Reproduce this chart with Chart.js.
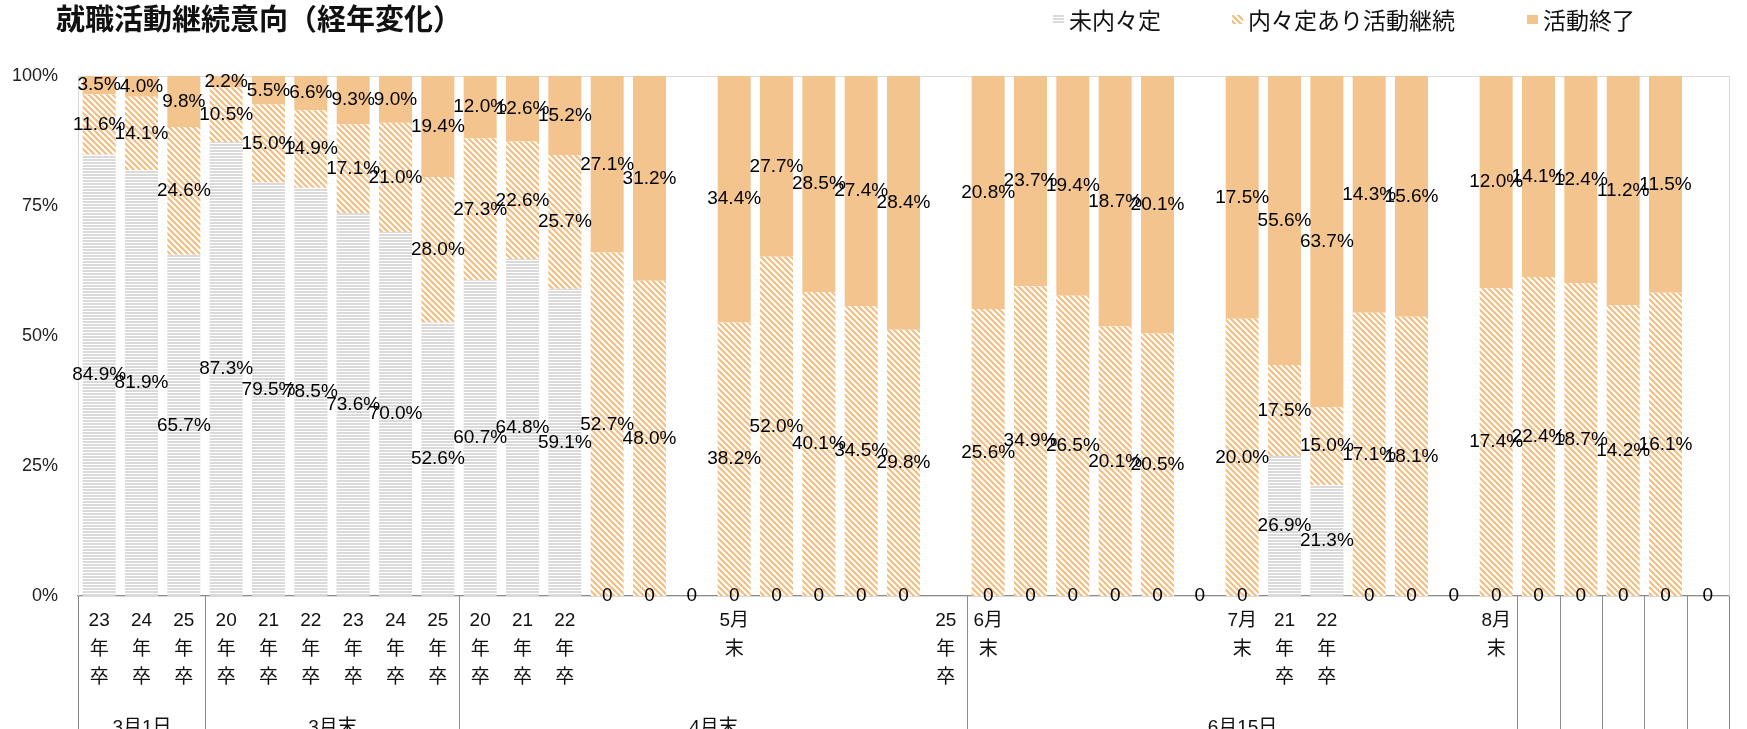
<!DOCTYPE html>
<html lang="ja">
<head>
<meta charset="utf-8">
<title>就職活動継続意向（経年変化）</title>
<script src="https://cdn.jsdelivr.net/npm/chart.js@4/dist/chart.umd.min.js"></script>
<style>
  html, body { margin: 0; padding: 0; background: #fff; overflow: hidden; }
  #wrap { position: relative; width: 1747px; height: 729px; }
  #title { position: absolute; left: 56px; top: -4px; line-height: 34px; font: bold 29px 'Noto Sans CJK JP', sans-serif; color: #111; white-space: nowrap; }
  .lg { position: absolute; top: 2px; display: flex; align-items: center; line-height: 30px; font: 23px 'Noto Sans CJK JP', sans-serif; color: #111; white-space: nowrap; }
  .sw { width: 11px; height: 9px; margin-right: 5px; }
</style>
</head>
<body>
<div id="wrap">
  <canvas id="chart" width="1747" height="729"></canvas>
  <div id="title">就職活動継続意向（経年変化）</div>
  <div class="lg" style="left:1053px"><span class="sw" id="sw0"></span><span>未内々定</span></div>
  <div class="lg" style="left:1232px"><span class="sw" id="sw1"></span><span>内々定あり活動継続</span></div>
  <div class="lg" style="left:1527px"><span class="sw" id="sw2"></span><span>活動終了</span></div>
</div>
<script>
// x軸ラベル（1段目）
const categories = [
  ['23', '年', '卒'], ['24', '年', '卒'], ['25', '年', '卒'],
  ['20', '年', '卒'], ['21', '年', '卒'], ['22', '年', '卒'], ['23', '年', '卒'], ['24', '年', '卒'], ['25', '年', '卒'],
  ['20', '年', '卒'], ['21', '年', '卒'], ['22', '年', '卒'], '', '', '', ['5月', '末'], '', '', '', '', ['25', '年', '卒'],
  ['6月', '末'], '', '', '', '', '', ['7月', '末'], ['21', '年', '卒'], ['22', '年', '卒'], '', '', '', ['8月', '末'],
  '', '', '', '', ''
];

// x軸ラベル（2段目のグループ）
const groupLabels = ['3月1日', '3月末', '4月末', '6月15日', '', '', '', '', ''];
const groupSizes = [3, 6, 12, 13, 1, 1, 1, 1, 1];

const seriesNames = ['未内々定', '内々定あり活動継続', '活動終了'];

// 値（%）
const notYet = [84.9, 81.9, 65.7, 87.3, 79.5, 78.5, 73.6, 70.0, 52.6, 60.7, 64.8, 59.1, 0, 0, 0, 0, 0, 0, 0, 0, null,
  0, 0, 0, 0, 0, 0, 0, 26.9, 21.3, 0, 0, 0, 0, 0, 0, 0, 0, 0];
const continuing = [11.6, 14.1, 24.6, 10.5, 15.0, 14.9, 17.1, 21.0, 28.0, 27.3, 22.6, 25.7, 52.7, 48.0, null, 38.2, 52.0, 40.1, 34.5, 29.8, null,
  25.6, 34.9, 26.5, 20.1, 20.5, null, 20.0, 17.5, 15.0, 17.1, 18.1, null, 17.4, 22.4, 18.7, 14.2, 16.1, null];
const finished = [3.5, 4.0, 9.8, 2.2, 5.5, 6.6, 9.3, 9.0, 19.4, 12.0, 12.6, 15.2, 27.1, 31.2, null, 34.4, 27.7, 28.5, 27.4, 28.4, null,
  20.8, 23.7, 19.4, 18.7, 20.1, null, 17.5, 55.6, 63.7, 14.3, 15.6, null, 12.0, 14.1, 12.4, 11.2, 11.5, null];

const rawSeries = [notYet, continuing, finished];
const labelFont = "'Liberation Sans', 'Noto Sans CJK JP', sans-serif";

// 100%積み上げ用に割合へ換算
function share(values) {
  return values.map((v, j) => {
    if (v == null) return null;
    const total = rawSeries.reduce((s, arr) => s + (arr[j] || 0), 0);
    return total ? v / total * 100 : 0;
  });
}

function hLines() {
  const c = document.createElement('canvas');
  c.width = 4; c.height = 3;
  const g = c.getContext('2d');
  g.fillStyle = '#fff'; g.fillRect(0, 0, 4, 3);
  g.fillStyle = '#dadada'; g.fillRect(0, 0, 4, 2);
  return c;
}

function diagLines() {
  const s = 6;
  const c = document.createElement('canvas');
  c.width = s; c.height = s;
  const g = c.getContext('2d');
  g.fillStyle = '#fff'; g.fillRect(0, 0, s, s);
  g.strokeStyle = '#f4bd82'; g.lineWidth = 2.2;
  [-s, 0, s].forEach(o => {
    g.beginPath(); g.moveTo(o - 1, -1); g.lineTo(o + s + 1, s + 1); g.stroke();
  });
  return c;
}

const ctx = document.getElementById('chart').getContext('2d');
const grayTile = hLines();
const diagTile = diagLines();
const fills = [ctx.createPattern(grayTile, 'repeat'), ctx.createPattern(diagTile, 'repeat'), '#f3c48e'];

document.getElementById('sw0').style.background = 'url(' + grayTile.toDataURL() + ')';
document.getElementById('sw1').style.background = 'url(' + diagTile.toDataURL() + ')';
document.getElementById('sw2').style.background = '#f3c48e';

// 枠線
const plotFrame = {
  id: 'plotFrame',
  beforeDatasetsDraw(chart) {
    const { ctx, chartArea: a } = chart;
    ctx.save();
    ctx.strokeStyle = '#d9d9d9';
    ctx.lineWidth = 1;
    ctx.strokeRect(Math.round(a.left) + 0.5, Math.round(a.top) + 0.5, Math.round(a.width), Math.round(a.height));
    ctx.restore();
  }
};

// データラベル
const barLabels = {
  id: 'barLabels',
  afterDatasetsDraw(chart) {
    const { ctx } = chart;
    ctx.save();
    ctx.font = '19px ' + labelFont;
    ctx.fillStyle = '#000';
    ctx.textAlign = 'center';
    ctx.textBaseline = 'middle';
    rawSeries.forEach((arr, i) => {
      chart.getDatasetMeta(i).data.forEach((bar, j) => {
        const v = arr[j];
        if (v == null) return;
        const { x, y, base } = bar.getProps(['x', 'y', 'base'], true);
        ctx.fillText(v === 0 ? '0' : v.toFixed(1) + '%', x, (y + base) / 2);
      });
    });
    ctx.restore();
  }
};

// 2段目のグループ区切りとラベル
const groupAxis = {
  id: 'groupAxis',
  afterDraw(chart) {
    const { ctx, chartArea } = chart;
    const x = chart.scales.x;
    const half = (x.getPixelForValue(1) - x.getPixelForValue(0)) / 2;
    const edge = k => Math.round(x.getPixelForValue(k) - half) + 0.5;
    const line = px => {
      ctx.beginPath();
      ctx.moveTo(px, chartArea.bottom);
      ctx.lineTo(px, chart.height);
      ctx.stroke();
    };
    ctx.save();
    ctx.strokeStyle = '#8c8c8c';
    ctx.lineWidth = 1;
    ctx.fillStyle = '#111';
    ctx.font = '19px ' + labelFont;
    ctx.textAlign = 'center';
    ctx.textBaseline = 'middle';
    let start = 0;
    groupSizes.forEach((n, i) => {
      const left = edge(start);
      const right = edge(start + n);
      line(left);
      ctx.fillText(groupLabels[i], (left + right) / 2, chart.height - 1);
      start += n;
    });
    line(edge(start));
    ctx.restore();
  }
};

new Chart(ctx, {
  type: 'bar',
  data: {
    labels: categories,
    datasets: rawSeries.map((arr, i) => ({
      label: seriesNames[i],
      data: share(arr),
      backgroundColor: fills[i],
      borderWidth: 0,
      barPercentage: 0.78,
      categoryPercentage: 1.0
    }))
  },
  options: {
    responsive: false,
    animation: false,
    devicePixelRatio: 1,
    layout: { padding: { top: 76, right: 18, left: 0, bottom: 0 } },
    plugins: {
      legend: { display: false },
      title: { display: false },
      tooltip: { enabled: false }
    },
    scales: {
      x: {
        stacked: true,
        grid: { display: false, drawTicks: false },
        border: { color: '#8c8c8c', width: 1.5 },
        ticks: {
          autoSkip: false,
          maxRotation: 0,
          padding: 10,
          color: '#111',
          font: { size: 19, lineHeight: 1.52, family: labelFont }
        },
        afterFit(scale) { scale.height = 133; }
      },
      y: {
        stacked: true,
        min: 0,
        max: 100,
        grid: { display: false, drawTicks: false },
        border: { color: '#a6a6a6' },
        ticks: {
          stepSize: 25,
          padding: 20,
          color: '#222',
          font: { size: 18, family: labelFont },
          callback: v => v + '%'
        },
        afterFit(scale) { scale.width = 78; }
      }
    }
  },
  plugins: [plotFrame, barLabels, groupAxis]
});
</script>
</body>
</html>
